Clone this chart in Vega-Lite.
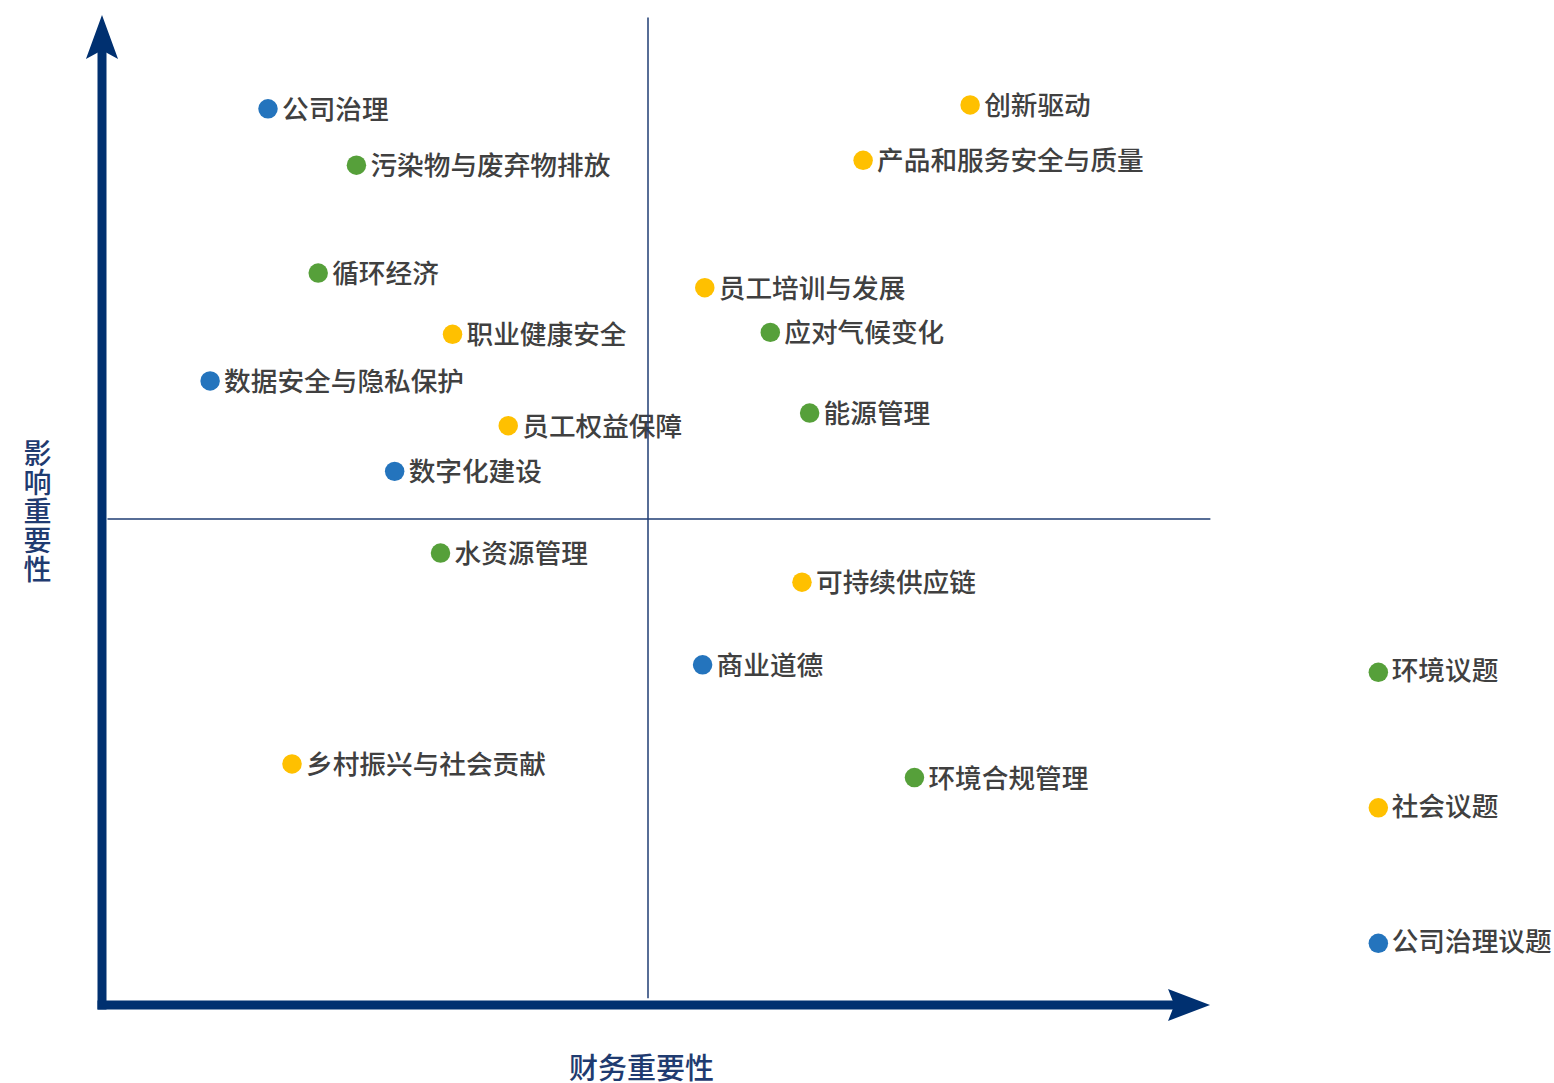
{
  "$schema": "https://vega.github.io/schema/vega-lite/v6.json",
  "width": 1092,
  "height": 972,
  "autosize": {"type": "none"},
  "padding": {"left": 102, "top": 33, "right": 360, "bottom": 78},
  "background": "white",
  "config": {"view": {"stroke": null}, "font": "Noto Sans CJK SC"},
  "datasets": {
    "topics": [
      {"topic": "公司治理", "cat": "公司治理议题", "x": 1.52, "y": 9.22},
      {"topic": "污染物与废弃物排放", "cat": "环境议题", "x": 2.33, "y": 8.64},
      {"topic": "循环经济", "cat": "环境议题", "x": 1.98, "y": 7.53},
      {"topic": "职业健康安全", "cat": "社会议题", "x": 3.21, "y": 6.90},
      {"topic": "数据安全与隐私保护", "cat": "公司治理议题", "x": 0.99, "y": 6.42},
      {"topic": "员工权益保障", "cat": "社会议题", "x": 3.72, "y": 5.96},
      {"topic": "数字化建设", "cat": "公司治理议题", "x": 2.68, "y": 5.49},
      {"topic": "水资源管理", "cat": "环境议题", "x": 3.10, "y": 4.65},
      {"topic": "乡村振兴与社会贡献", "cat": "社会议题", "x": 1.74, "y": 2.48},
      {"topic": "创新驱动", "cat": "社会议题", "x": 7.95, "y": 9.26},
      {"topic": "产品和服务安全与质量", "cat": "社会议题", "x": 6.97, "y": 8.69},
      {"topic": "员工培训与发展", "cat": "社会议题", "x": 5.52, "y": 7.38},
      {"topic": "应对气候变化", "cat": "环境议题", "x": 6.12, "y": 6.92},
      {"topic": "能源管理", "cat": "环境议题", "x": 6.48, "y": 6.09},
      {"topic": "可持续供应链", "cat": "社会议题", "x": 6.41, "y": 4.35},
      {"topic": "商业道德", "cat": "公司治理议题", "x": 5.50, "y": 3.50},
      {"topic": "环境合规管理", "cat": "环境议题", "x": 7.44, "y": 2.34}
    ],
    "dividers": [
      {"x": 5, "y": 0.07, "x2": 5, "y2": 10.16},
      {"x": 0.05, "y": 5, "x2": 10.15, "y2": 5}
    ],
    "axislines": [
      {"x": 0, "y": 0, "x2": 0, "y2": 9.82},
      {"x": 0, "y": 0, "x2": 9.81, "y2": 0}
    ],
    "arrowUp": [{"x": 0, "y": 10.185}],
    "arrowRight": [{"x": 10.147, "y": 0}]
  },
  "encoding": {
    "x": {
      "field": "x", "type": "quantitative",
      "scale": {"domain": [0, 10], "nice": false, "zero": false},
      "axis": {
        "title": "财务重要性", "domain": false, "ticks": false, "labels": false, "grid": false,
        "titleFontSize": 29, "titleColor": "#1F3B70", "titleFontWeight": 500,
        "titleX": 539, "titleY": 64, "titleAlign": "center", "titleBaseline": "middle"
      }
    },
    "y": {
      "field": "y", "type": "quantitative",
      "scale": {"domain": [0, 10], "nice": false, "zero": false},
      "axis": {
        "title": ["影", "响", "重", "要", "性"], "domain": false, "ticks": false, "labels": false, "grid": false,
        "titleFontSize": 28, "titleColor": "#1F3B70", "titleFontWeight": 500,
        "titleAngle": 0, "titleX": -65, "titleY": 422, "titleAlign": "center", "titleBaseline": "middle",
        "titleLineHeight": 29
      }
    }
  },
  "layer": [
    {
      "data": {"name": "axislines"},
      "mark": {"type": "rule", "color": "#003070", "strokeWidth": 9, "strokeCap": "square"},
      "encoding": {"x2": {"field": "x2"}, "y2": {"field": "y2"}}
    },
    {
      "data": {"name": "arrowUp"},
      "mark": {"type": "point", "shape": "M0,0 L0.73,2 L0,1.6 L-0.73,2 Z", "size": 1936, "filled": true, "color": "#003070", "opacity": 1, "strokeWidth": 0}
    },
    {
      "data": {"name": "arrowRight"},
      "mark": {"type": "point", "shape": "M0,0 L-2,-0.76 L-1.7,0 L-2,0.76 Z", "size": 1764, "filled": true, "color": "#003070", "opacity": 1, "strokeWidth": 0}
    },
    {
      "data": {"name": "topics"},
      "mark": {"type": "point", "shape": "circle", "size": 380, "filled": true, "opacity": 1, "strokeWidth": 0},
      "encoding": {
        "color": {
          "field": "cat", "type": "nominal",
          "scale": {"domain": ["环境议题", "社会议题", "公司治理议题"], "range": ["#56A03A", "#FFC000", "#2474BD"]},
          "legend": {
            "orient": "none", "legendX": 1263, "legendY": 626, "title": null, "padding": 0,
            "symbolType": "circle", "symbolSize": 380, "symbolStrokeWidth": 0, "symbolOpacity": 1,
            "labelFontSize": 26.67, "labelFontWeight": 500, "labelColor": "#404040", "labelOffset": 0, "rowPadding": 107.5,
            "labelLimit": 400
          }
        }
      }
    },
    {
      "data": {"name": "topics"},
      "mark": {"type": "text", "align": "left", "baseline": "middle", "dx": 14, "dy": 2, "fontSize": 26.67, "fontWeight": 500, "color": "#404040"},
      "encoding": {"text": {"field": "topic"}}
    },
    {
      "data": {"name": "dividers"},
      "mark": {"type": "rule", "color": "#1F3C73", "strokeWidth": 1.5},
      "encoding": {"x2": {"field": "x2"}, "y2": {"field": "y2"}}
    }
  ]
}
